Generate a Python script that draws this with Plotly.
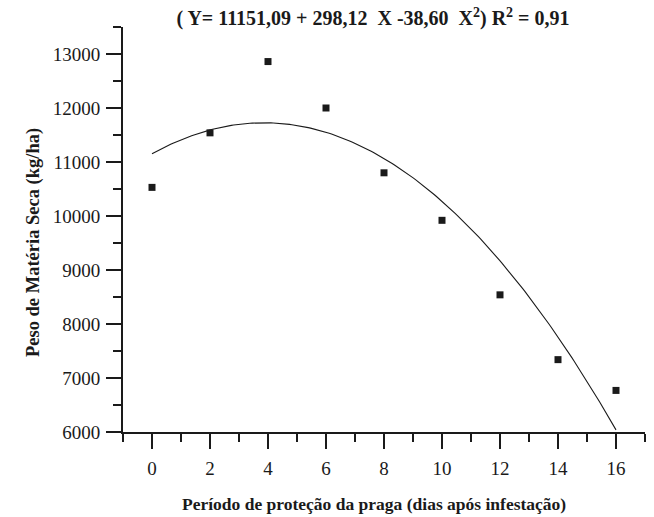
import numpy as np
import plotly.graph_objects as go

# Data
dias = [0, 2, 4, 6, 8, 10, 12, 14, 16]
peso = [10530, 11540, 12860, 12000, 10800, 9920, 8540, 7340, 6770]

# Regression coefficients printed in the chart title
b0, b1, b2 = 11151.09, 298.12, -38.60

x_tick_vals = [0, 2, 4, 6, 8, 10, 12, 14, 16]
x_tick_text = ["0", "2", "4", "6", "8", "10", "12", "14", "16"]
y_tick_vals = [6000, 7000, 8000, 9000, 10000, 11000, 12000, 13000]
y_tick_text = ["6000", "7000", "8000", "9000", "10000", "11000", "12000", "13000"]

title_text = "<b>( Y= 11151,09 + 298,12  X -38,60  X<sup>2</sup>) R<sup>2</sup> = 0,91</b>"
x_title = "<b>Período de proteção da praga (dias após infestação)</b>"
y_title = "<b>Peso de Matéria Seca (kg/ha)</b>"

xc = np.linspace(0, 16, 200)
yc = b0 + b1 * xc + b2 * xc ** 2

FONT = "Liberation Serif"
INK = "#1a1a1a"

fig = go.Figure()
fig.add_trace(go.Scatter(x=xc, y=yc, mode="lines",
                         line=dict(color=INK, width=1.1), hoverinfo="skip",
                         showlegend=False))
fig.add_trace(go.Scatter(x=dias, y=peso, mode="markers",
                         marker=dict(symbol="square", size=7, color=INK),
                         showlegend=False))

axis_common = dict(
    showline=True, linecolor=INK, linewidth=2, mirror=False,
    ticks="outside", ticklen=15, tickwidth=2, tickcolor=INK,
    showgrid=False, zeroline=False,
    tickfont=dict(family=FONT, size=19, color=INK),
)

fig.update_layout(
    width=654, height=517,
    margin=dict(l=123, r=9, t=27, b=85),
    paper_bgcolor="white", plot_bgcolor="white",
    font=dict(family=FONT, color=INK),
    title=dict(text=title_text, xref="container", yref="container",
               x=373 / 654, xanchor="center", y=1 - 18 / 517, yanchor="middle",
               font=dict(family=FONT, size=20, color=INK)),
    xaxis=dict(range=[-1, 17], tickvals=x_tick_vals, ticktext=x_tick_text,
               minor=dict(dtick=1, tick0=0, ticks="outside", ticklen=8,
                          tickwidth=2, tickcolor=INK, showgrid=False),
               ticklabelstandoff=3,
               **axis_common),
    yaxis=dict(range=[6000, 13500], tickvals=y_tick_vals, ticktext=y_tick_text,
               minor=dict(dtick=500, tick0=6000, ticks="outside", ticklen=8,
                          tickwidth=2, tickcolor=INK, showgrid=False),
               ticklabelstandoff=2,
               **axis_common),
    annotations=[
        dict(text=x_title, xref="paper", yref="paper",
             x=(374 - 123) / 522, y=(432 - 504) / 405,
             xanchor="center", yanchor="middle", showarrow=False,
             font=dict(family=FONT, size=17.5, color=INK)),
        dict(text=y_title, xref="paper", yref="paper",
             x=(33 - 123) / 522, y=(432 - 243) / 405, textangle=-90,
             xanchor="center", yanchor="middle", showarrow=False,
             font=dict(family=FONT, size=18.5, color=INK)),
    ],
)

fig.write_html("out.html")
